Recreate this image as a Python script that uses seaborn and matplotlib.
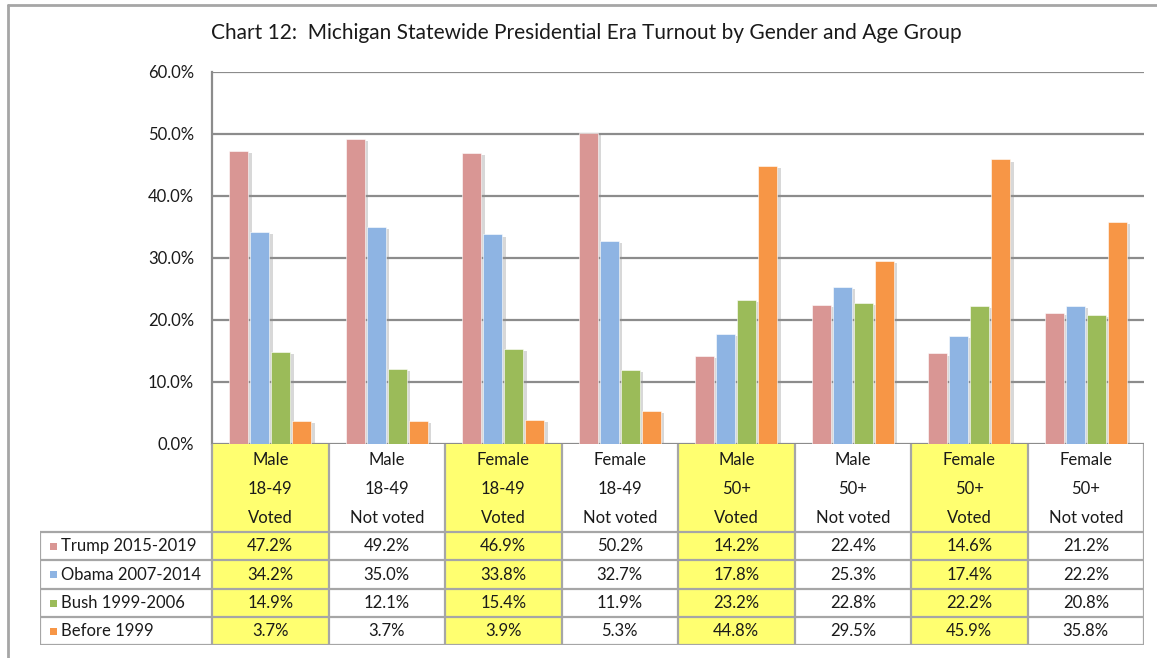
import matplotlib
matplotlib.use("Agg")
import matplotlib.pyplot as plt
import matplotlib.patheffects as pe
from matplotlib.lines import Line2D
from matplotlib.patches import Rectangle
import pandas as pd
import seaborn as sns

# --- data ---
groups = ["Male\n18-49\nVoted", "Male\n18-49\nNot voted",
          "Female\n18-49\nVoted", "Female\n18-49\nNot voted",
          "Male\n50+\nVoted", "Male\n50+\nNot voted",
          "Female\n50+\nVoted", "Female\n50+\nNot voted"]
eras = ["Trump 2015-2019", "Obama 2007-2014", "Bush 1999-2006", "Before 1999"]
trump = [47.2, 49.2, 46.9, 50.2, 14.2, 22.4, 14.6, 21.2]
obama = [34.2, 35.0, 33.8, 32.7, 17.8, 25.3, 17.4, 22.2]
bush = [14.9, 12.1, 15.4, 11.9, 23.2, 22.8, 22.2, 20.8]
before = [3.7, 3.7, 3.9, 5.3, 44.8, 29.5, 45.9, 35.8]
yticks = [0, 10, 20, 30, 40, 50, 60]
title = "Chart 12:  Michigan Statewide Presidential Era Turnout by Gender and Age Group"

colors = ["#D99694", "#8EB4E3", "#9BBB59", "#F79646"]
yellow = "#FFFF70"
grid_c = "#8C8C8C"
line_c = "#A6A6A6"
txt_c = "#1A1A1A"

series = dict(zip(eras, [trump, obama, bush, before]))
rows = []
for era, vals in series.items():
    for g, v in zip(groups, vals):
        rows.append({"group": g, "era": era, "pct": v})
df = pd.DataFrame(rows)

sns.set_style("white")
plt.rcParams["font.family"] = ["Lato", "DejaVu Sans"]

W, H = 1157, 658
fig = plt.figure(figsize=(W / 100, H / 100), dpi=100)

def fx(px):
    return px / W

def fy(py):
    return 1 - py / H

# plot area in pixel coords
L, R, T, B = 212, 1144, 72, 444
ax = fig.add_axes([fx(L), fy(B), fx(R) - fx(L), fy(T) - fy(B)])

sns.barplot(data=df, x="group", y="pct", hue="era", order=groups,
            hue_order=eras, palette=colors, width=0.72, gap=0.1,
            saturation=1, ax=ax, legend=False)

shadow = [pe.SimplePatchShadow(offset=(2.5, -1.5), shadow_rgbFace="#909090", alpha=0.35),
          pe.Normal()]
for p in ax.patches:
    p.set_edgecolor("white")
    p.set_linewidth(0.4)
    p.set_path_effects(shadow)

ax.set_xlim(-0.5, len(groups) - 0.5)
ax.set_ylim(0, 60)
ax.set_yticks(yticks)
ax.set_yticklabels([f"{t:.1f}%" for t in yticks], fontsize=12, color=txt_c)
ax.tick_params(axis="y", length=0, pad=13)
ax.set_xticks([])
ax.set_xlabel("")
ax.set_ylabel("")
ax.set_axisbelow(True)
ax.yaxis.grid(True, color=grid_c, linewidth=1.6)
for s in ["top", "right", "bottom"]:
    ax.spines[s].set_visible(False)
ax.spines["left"].set_color(grid_c)
ax.spines["left"].set_linewidth(1.6)

# --- data table under the plot ---
TL, TB = 40, 645
tax = fig.add_axes([fx(TL), fy(TB), fx(R) - fx(TL), fy(B) - fy(TB)])
col_w = (R - L) / len(groups)
x0 = -0.5 - (L - TL) / col_w
tax.set_xlim(x0, len(groups) - 0.5)
tax.set_ylim(TB - B, 0)
tax.axis("off")

head_h = 88
row_edges = [head_h, 116, 145, 173, TB - B]
line_y = [16, 45, 74]

for i, g in enumerate(groups):
    fc = yellow if i % 2 == 0 else "white"
    tax.add_patch(Rectangle((i - 0.5, 0), 1, TB - B, facecolor=fc,
                            edgecolor="none", zorder=0))
    for k, part in enumerate(g.split("\n")):
        tax.text(i, line_y[k], part, ha="center", va="center",
                 fontsize=12, color=txt_c)

for r, era in enumerate(eras):
    yc = (row_edges[r] + row_edges[r + 1]) / 2
    tax.add_patch(Rectangle((x0 + 10 / col_w, yc - 3.5), 7 / col_w, 7,
                            facecolor=colors[r], edgecolor="none", zorder=2))
    tax.text(x0 + 21 / col_w, yc, era, ha="left", va="center",
             fontsize=12, color=txt_c)
    for i, v in enumerate(series[era]):
        tax.text(i, yc, f"{v:.1f}%", ha="center", va="center",
                 fontsize=12, color=txt_c)

lk = dict(color=line_c, linewidth=1.6, zorder=3)
# header verticals
for i in range(len(groups) + 1):
    tax.plot([i - 0.5, i - 0.5], [0, TB - B], **lk)
tax.plot([x0, x0], [head_h, TB - B], **lk)
for yv in row_edges:
    tax.plot([x0, len(groups) - 0.5], [yv, yv], **lk)

fig.text(fx(586), fy(33), title, ha="center", va="center",
         fontsize=15, color=txt_c)

# outer chart frame (left and top edges visible)
fig.add_artist(Line2D([fx(8), fx(8)], [0, fy(5)], color=line_c, linewidth=2))
fig.add_artist(Line2D([fx(8), 1], [fy(5), fy(5)], color=line_c, linewidth=2))

fig.savefig("out.png", dpi=100)
